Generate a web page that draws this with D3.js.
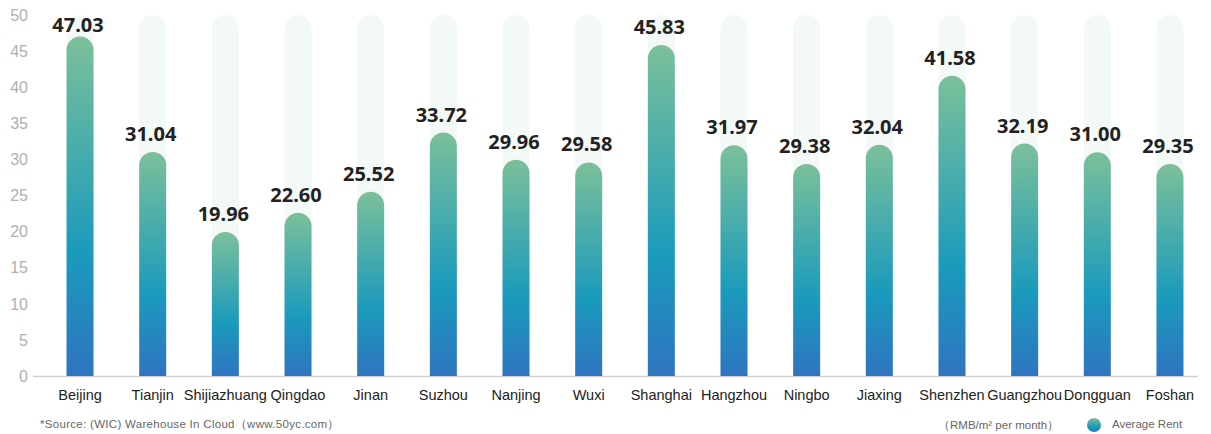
<!DOCTYPE html>
<html><head><meta charset="utf-8">
<script src="https://cdn.jsdelivr.net/npm/d3@7"></script>
<style>body{margin:0;background:#fff;}svg{display:block;}</style>
</head><body>
<svg id="c" width="1211" height="434"></svg>
<script>
const categories = ["Beijing","Tianjin","Shijiazhuang","Qingdao","Jinan","Suzhou","Nanjing","Wuxi","Shanghai","Hangzhou","Ningbo","Jiaxing","Shenzhen","Guangzhou","Dongguan","Foshan"];
const rents = [47.03,31.04,19.96,22.60,25.52,33.72,29.96,29.58,45.83,31.97,29.38,32.04,41.58,32.19,31.00,29.35];
const yTicks = [0,5,10,15,20,25,30,35,40,45,50];
const seriesName = "Average Rent";
const unitText = "（RMB/m² per month）";
const sourceText = "*Source: (WIC) Warehouse In Cloud（www.50yc.com）";

const svg = d3.select("#c");
const x = d3.scaleBand().domain(categories).range([43.7, 1206.3]).padding(0);
const cxOf = d => x(d) + x.bandwidth()/2;
const y = d3.scaleLinear().domain([0, 50]).range([376, 15]);
const bw = 27, r = bw/2;

const defs = svg.append("defs");
const g = defs.append("linearGradient").attr("id","grad").attr("x1",0).attr("y1",0).attr("x2",0).attr("y2",1);
g.append("stop").attr("offset","0").attr("stop-color","#7bc09a");
g.append("stop").attr("offset","0.64").attr("stop-color","#1a9abc");
g.append("stop").attr("offset","1").attr("stop-color","#2f74c0");

function barPath(cx, top, bottom){
  const x0 = cx - r, x1 = cx + r;
  return `M${x0},${bottom}L${x0},${top + r}A${r},${r} 0 0 1 ${x1},${top + r}L${x1},${bottom}Z`;
}

// y tick labels
svg.append("g").selectAll("text").data(yTicks).join("text")
  .attr("x", 28).attr("y", d => y(d)).attr("dy","0.36em")
  .attr("text-anchor","end").attr("font-family","Liberation Sans, Arial, sans-serif")
  .attr("font-size", 16).attr("fill","#b0b0b0").text(d => d);

// background bars
svg.append("g").selectAll("path").data(categories).join("path")
  .attr("d", d => barPath(cxOf(d), y(50), y(0)))
  .attr("fill","#f3f9f7");

// baseline
svg.append("line").attr("x1",33).attr("x2",1198).attr("y1",y(0)+0.5).attr("y2",y(0)+0.5)
  .attr("stroke","#d0d0d0").attr("stroke-width",1.5);

// bars
svg.append("g").selectAll("path").data(rents).join("path")
  .attr("d", (d,i) => barPath(cxOf(categories[i]), y(d), y(0)))
  .attr("fill","url(#grad)");

// value labels
svg.append("g").selectAll("text").data(rents).join("text")
  .attr("x", (d,i) => cxOf(categories[i]) - 2)
  .attr("y", d => Math.max(y(d) - 11, 32))
  .attr("text-anchor","middle").attr("font-family","Noto Sans, Open Sans, sans-serif")
  .attr("font-weight","bold").attr("font-size",20).attr("fill","#222")
  .text(d => d.toFixed(2));

// x labels
svg.append("g").selectAll("text").data(categories).join("text")
  .attr("x", d => cxOf(d)).attr("y", 400)
  .attr("text-anchor","middle").attr("font-family","Liberation Sans, Arial, sans-serif")
  .attr("font-size",14.5).attr("fill","#222").text(d => d);

// footer
svg.append("text").attr("x",40).attr("y",428).attr("font-family","Liberation Sans, Arial, sans-serif")
  .attr("font-size",11.5).attr("letter-spacing",0.3).attr("fill","#666").text(sourceText);
svg.append("text").attr("x",938).attr("y",429).attr("font-family","Liberation Sans, Arial, sans-serif")
  .attr("font-size",11.5).attr("fill","#666").text(unitText);
svg.append("circle").attr("cx",1094).attr("cy",425).attr("r",7).attr("fill","url(#grad)");
svg.append("text").attr("x",1112).attr("y",428).attr("font-family","Liberation Sans, Arial, sans-serif")
  .attr("font-size",11.5).attr("fill","#666").text(seriesName);
</script>
</body></html>
